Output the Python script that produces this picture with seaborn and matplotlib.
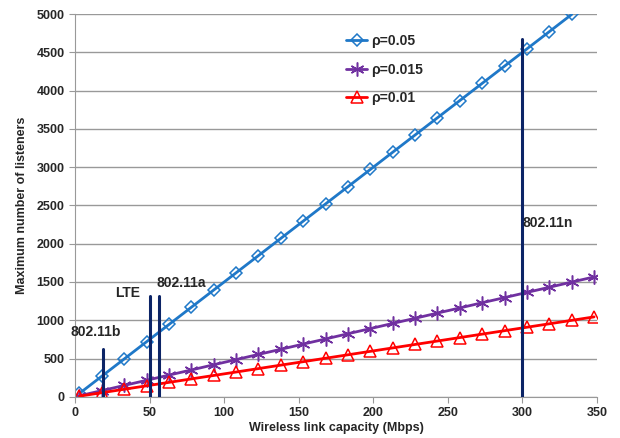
import matplotlib
matplotlib.use("Agg")
import matplotlib.pyplot as plt
import seaborn as sns
import pandas as pd

# link capacity (Mbps) at each marker
capacity = [3, 18, 33, 48, 63, 78, 93, 108, 123, 138, 153, 168, 183, 198,
            213, 228, 243, 258, 273, 288, 303, 318, 333, 348]

# maximum number of listeners per rho
rho_005 = [45, 270, 495, 720, 945, 1170, 1395, 1620, 1845, 2070, 2295, 2520,
           2745, 2970, 3195, 3420, 3645, 3870, 4095, 4320, 4545, 4770, 4995]
rho_0015 = [14, 81, 149, 216, 284, 351, 419, 486, 554, 621, 689, 756, 824,
            891, 959, 1026, 1094, 1161, 1229, 1296, 1364, 1431, 1499, 1566]
rho_001 = [9, 54, 99, 144, 189, 234, 279, 324, 369, 414, 459, 504, 549, 594,
           639, 684, 729, 774, 819, 864, 909, 954, 999, 1044]

# technology markers: name, capacity, line height
tech_names = ["802.11b", "LTE", "802.11a", "802.11n"]
tech_cap = [19, 50, 56, 300]
tech_top = [620, 1320, 1320, 4670]

sns.set_style("white")
plt.rcParams["font.family"] = ["Liberation Sans", "DejaVu Sans"]
plt.rcParams["font.weight"] = "bold"

fig = plt.figure(figsize=(6.2, 4.38), dpi=100)
ax = fig.add_axes([0.121, 0.094, 0.842, 0.874])

series = [
    ("ρ=0.05", rho_005, "#1f78c8", "D", 6.5),
    ("ρ=0.015", rho_0015, "#7030a0", (6, 2, 0), 10),
    ("ρ=0.01", rho_001, "#ff0000", "^", 9),
]
for label, vals, col, mk, ms in series:
    df = pd.DataFrame({"x": capacity[:len(vals)], "y": vals})
    sns.lineplot(data=df, x="x", y="y", ax=ax, color=col, linewidth=2,
                 marker=mk, markersize=ms, markerfacecolor="none",
                 markeredgecolor=col, markeredgewidth=1.1, label=label)

navy = "#0c2466"
for name, c, top in zip(tech_names, tech_cap, tech_top):
    ax.plot([c, c], [0, top], color=navy, linewidth=2.2, zorder=3)

ax.text(14, 760, "802.11b", fontsize=10, fontweight="bold", ha="center", va="bottom")
ax.text(35, 1270, "LTE", fontsize=10, fontweight="bold", ha="center", va="bottom")
ax.text(71, 1400, "802.11a", fontsize=10, fontweight="bold", ha="center", va="bottom")
ax.text(317, 2270, "802.11n", fontsize=10, fontweight="bold", ha="center", va="center")

ax.set_xlim(0, 350)
ax.set_ylim(0, 5000)
ax.set_xticks(range(0, 351, 50))
ax.set_yticks(range(0, 5001, 500))
ax.yaxis.grid(True, color="#999999", linewidth=1)
ax.set_axisbelow(True)
for s in ["top", "right"]:
    ax.spines[s].set_visible(False)
for s in ["left", "bottom"]:
    ax.spines[s].set_color("#999999")
ax.tick_params(axis="x", direction="out", length=4, color="#999999", labelsize=9)
ax.tick_params(axis="y", direction="out", length=4, color="#999999", labelsize=9)
ax.tick_params(axis="y", left=True)
ax.tick_params(axis="x", bottom=True)
for t in ax.get_xticklabels() + ax.get_yticklabels():
    t.set_fontweight("bold")

ax.set_xlabel("Wireless link capacity (Mbps)", fontsize=9, fontweight="bold", labelpad=2)
ax.set_ylabel("Maximum number of listeners", fontsize=9, fontweight="bold", labelpad=6)

leg = ax.legend(loc="upper left", bbox_to_anchor=(0.496, 0.98), frameon=False,
                fontsize=10, labelspacing=1.05, handlelength=1.5, handletextpad=0.3)
for t in leg.get_texts():
    t.set_fontweight("bold")

fig.savefig("out.png", dpi=100)
